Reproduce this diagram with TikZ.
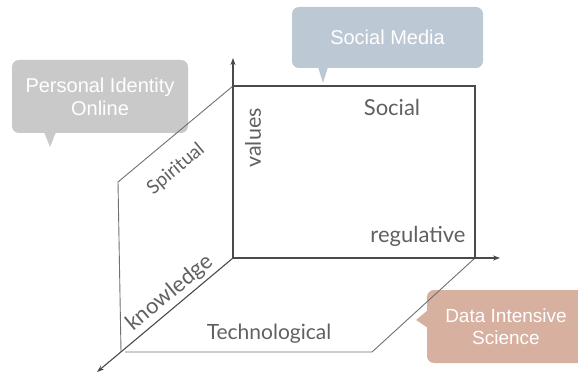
\documentclass[tikz,border=0pt]{standalone}
\usepackage{fontspec}
\setmainfont{Lato}
\newfontfamily\calloutfont{Liberation Sans}
\usetikzlibrary{arrows.meta}
\definecolor{smblue}{HTML}{BCC8D4}
\definecolor{pigrey}{HTML}{C9C9C9}
\definecolor{distan}{HTML}{D8B0A0}
\definecolor{axisc}{HTML}{4A4A4A}
\definecolor{planec}{HTML}{707070}
\definecolor{labelc}{HTML}{606060}
\tikzset{
  callout/.style={rounded corners=7pt, inner sep=0pt, align=center, text=white, font=\calloutfont\fontsize{20}{23}\selectfont},
  axisline/.style={draw=axisc, line width=1.1pt, -{Stealth[length=7pt,width=5pt]}},
  backwall/.style={draw=axisc, line width=1.6pt},
  planeline/.style={draw=planec, line width=0.9pt},
  lbl/.style={text=labelc, inner sep=0pt}
}
\begin{document}
\begin{tikzpicture}[x=1pt,y=-1pt]
\useasboundingbox (0,0) rectangle (578,374);
% callouts
\node[callout, fill=smblue, minimum width=191pt, minimum height=61pt] (sm) at (387.5,37.5) {Social Media};
\fill[smblue] (318,67) -- (328,67) -- (323,83) -- cycle;
\node[callout, fill=pigrey, minimum width=176pt, minimum height=73pt] (pi) at (100,96.5) {Personal Identity\\Online};
\fill[pigrey] (44,132) -- (56,132) -- (50,147) -- cycle;
\node[callout, fill=distan, minimum width=158pt, minimum height=73pt, font=\calloutfont\fontsize{19}{22}\selectfont] (di) at (506,326.5) {Data Intensive\\Science};
\fill[distan] (428,310) -- (428,328) -- (416,320) -- cycle;
% coordinates
\coordinate (O) at (233,258);
\coordinate (vt) at (233,58);
\coordinate (ht) at (500,258);
\coordinate (dt) at (97,372);
\coordinate (bwtl) at (233,86);
\coordinate (bwtr) at (475,86);
\coordinate (bwbr) at (475,258);
\coordinate (lptl) at (118,182);
\coordinate (lpbl) at (121,352);
\coordinate (bpl) at (125,352);
\coordinate (bpr) at (372,352);
% planes
\draw[planeline] (bwtl) -- (lptl) -- (lpbl);
\draw[planeline] (bpl) -- (bpr) -- (bwbr);
\draw[backwall] (bwtl) -- (bwtr) -- (bwbr);
% axes
\draw[axisline] (O) -- (vt);
\draw[axisline] (O) -- (ht);
\draw[axisline] (O) -- (dt);
% labels
\node[lbl, font=\fontsize{22}{24}\selectfont] (social) at (392,107) {Social};
\node[lbl, font=\fontsize{21.5}{24}\selectfont, rotate=90] (values) at (253,138) {values};
\node[lbl, font=\fontsize{19}{21}\selectfont, rotate=40] (spir) at (176,169) {Spiritual};
\node[lbl, font=\fontsize{22}{24}\selectfont, rotate=39.5] (know) at (170,293) {knowledge};
\node[lbl, font=\fontsize{21}{24}\selectfont] (tech) at (269,334) {Technological};
\node[lbl, font=\fontsize{22}{24}\selectfont] (reg) at (418,236) {regulative};
\end{tikzpicture}
\end{document}
